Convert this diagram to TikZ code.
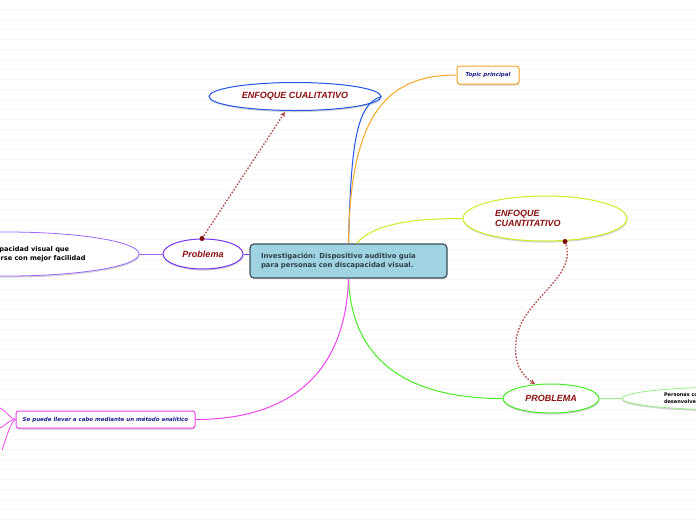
\documentclass[tikz,border=0pt]{standalone}
\usepackage{fontspec}
\setmainfont{Liberation Sans}
\newfontfamily\verd{DejaVu Sans}
\usetikzlibrary{shapes.geometric,shadows,arrows.meta}
\definecolor{bgline}{HTML}{F7F7F7}
\definecolor{cfill}{HTML}{9FD3E1}
\definecolor{cborder}{HTML}{3E505C}
\definecolor{ctext}{HTML}{2E3F4B}
\definecolor{dred}{HTML}{8B1010}
\definecolor{dblue}{HTML}{1C1C8A}
\definecolor{cblue}{HTML}{2255E8}
\definecolor{corange}{HTML}{F6A623}
\definecolor{cyellow}{HTML}{CCEE22}
\definecolor{cgreen}{HTML}{44EE22}
\definecolor{lgreen}{HTML}{99EE88}
\definecolor{cpurple}{HTML}{7733EE}
\definecolor{lpurple}{HTML}{9966FF}
\definecolor{cmag}{HTML}{EE44EE}
\definecolor{dashc}{HTML}{B04848}
\tikzset{
  shad/.style={drop shadow={shadow xshift=0.4pt,shadow yshift=-1.6pt,opacity=0.28,fill=black!60}},
  ell/.style={ellipse,draw,fill=white,line width=1pt,inner sep=0pt,shad,
     font=\bfseries\itshape\fontsize{9}{10.5}\selectfont,text=dred},
  tbox/.style={rectangle,rounded corners=2.5pt,draw,fill=white,line width=1pt,shad,
     inner sep=0pt,font=\verd\bfseries\itshape\fontsize{5.5}{6}\selectfont,text=dblue},
  conn/.style={line width=1pt},
  rel/.style={draw=dashc,line width=1.3pt,dash pattern=on 1.6pt off 1.6pt,
     -{Stealth[length=5pt,width=5pt]}},
  reldot/.style={circle,fill=dred!90!black,inner sep=0pt,minimum size=5pt},
}
\begin{document}
\begin{tikzpicture}[x=1pt,y=-1pt]
\useasboundingbox (0,0) rectangle (696,520);
\clip (0,0) rectangle (696,520);
\fill[white] (0,0) rectangle (696,520);
\foreach \yy in {9,19,...,519} \draw[bgline,line width=0.9pt] (0,\yy) -- (696,\yy);

% free ends
\coordinate (f1) at (0,408);
\coordinate (f2) at (0,428);
\coordinate (f3) at (2,450);

% nodes
\node[ell,draw=cblue,minimum width=172pt,minimum height=28pt] (cual) at (295,96.5) {ENFOQUE CUALITATIVO};
\node[tbox,draw=corange,minimum width=62pt,minimum height=18pt] (topic) at (488,75) {Topic principal};
\node[ell,draw=cyellow,minimum width=164pt,minimum height=45pt,text width=100pt,align=left] (cuan) at (545,218.5) {ENFOQUE\\CUANTITATIVO};
\node[ell,draw=cpurple,minimum width=80pt,minimum height=30pt] (prob) at (203,254) {Problema};
\node[ell,draw=lpurple,line width=0.8pt,minimum width=264pt,minimum height=44pt,align=left,
  font=\verd\bfseries\fontsize{6.6}{8.8}\selectfont,text=black] (pl) at (7,254)
  {Personas con discapacidad visual que\\puedan desenvolverse con mejor facilidad};
\node[ell,draw=cgreen,minimum width=96pt,minimum height=29pt] (PROB) at (551,398.5) {PROBLEMA};
\node[ell,draw=lgreen,line width=0.8pt,minimum width=226pt,minimum height=23pt,text width=142pt,align=left,
  font=\verd\bfseries\fontsize{5}{7}\selectfont,text=black] (pr) at (735,398.5)
  {Personas con discapacidad visual que puedan\\desenvolverse con mejor facilidad};
\node[tbox,draw=cmag,minimum width=179pt,minimum height=17pt] (met) at (105.5,419.5) {Se puede llevar a cabo mediante un método analítico};

% central node
\node[rectangle,rounded corners=4pt,draw=cborder,line width=1.2pt,fill=cfill,
  drop shadow={shadow xshift=0.4pt,shadow yshift=-1.2pt,opacity=0.3},
  minimum width=197pt,minimum height=34pt,text width=175pt,align=left,inner sep=0pt,
  font=\verd\bfseries\fontsize{6.9}{8.4}\selectfont,text=ctext]
  (c) at (348.5,261) {Investigación: Dispositivo auditivo guia\\para personas con discapacidad visual.};

\draw[conn,cblue] (c.north) .. controls (351,150) and (355,104) .. (cual.east);
\draw[conn,corange] (c.north) .. controls (350,110) and (390,75) .. (topic.west);
\draw[conn,cyellow] ([xshift=8pt]c.north) .. controls (375,222) and (420,218.5) .. (cuan.west);
\draw[conn,cgreen] (c.south) .. controls (352,370) and (420,398.5) .. (PROB.west);
\draw[conn,cmag] (c.south) .. controls (345,390) and (270,419.5) .. (met.east);
\draw[conn,cpurple] (prob.east) -- (prob.east -| c.west);
\draw[conn,lpurple,line width=0.8pt] (pl.east) -- (prob.west);
\draw[conn,lgreen,line width=0.8pt] (PROB.east) -- (pr.west);
\draw[conn,cmag,line width=0.8pt] (met.west) .. controls (10,419) and (6,410) .. (f1);
\draw[conn,cmag,line width=0.8pt] (met.west) .. controls (10,419) and (5,426) .. (f2);
\draw[conn,cmag,line width=0.8pt] (met.west) .. controls (10,422) and (6,440) .. (f3);

% relationships
\coordinate (r1s) at (202,238.5);
\coordinate (r1e) at (285,112);
\draw[rel] (r1s) -- (r1e);
\node[reldot] (d1) at (r1s) {};
\coordinate (r2s) at (565,241.5);
\coordinate (r2m) at (516,342);
\coordinate (r2e) at (535,384);
\draw[rel] (r2s) .. controls (580,278) and (519,300) .. (r2m) .. controls (513,365) and (524,377) .. (r2e);
\node[reldot] (d2) at (r2s) {};
\end{tikzpicture}
\end{document}
